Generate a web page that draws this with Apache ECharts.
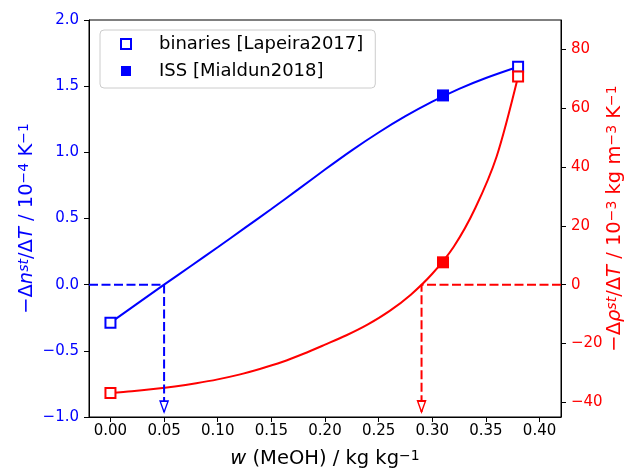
<!DOCTYPE html>
<html><head><meta charset="utf-8">
<script src="https://cdn.jsdelivr.net/npm/echarts@6/dist/echarts.min.js"></script>
<style>html,body{margin:0;padding:0;background:#fff}#c{width:634px;height:469px}</style>
</head><body><div id="c"></div>
<script>
// ---- data ----
const xTicks = [0, 0.05, 0.10, 0.15, 0.20, 0.25, 0.30, 0.35, 0.40];
const nTicks = [-1.0, -0.5, 0.0, 0.5, 1.0, 1.5, 2.0];
const rhoTicks = [-40, -20, 0, 20, 40, 60, 80];

// fitted curves
const wCurveN = [0, 0.025, 0.05, 0.075, 0.10, 0.125, 0.15, 0.175, 0.20, 0.225, 0.25, 0.275, 0.30, 0.325, 0.35, 0.38];
const nCurve  = [-0.287, -0.143, 0, 0.141, 0.283, 0.427, 0.572, 0.72, 0.87, 1.015, 1.15, 1.273, 1.383, 1.48, 1.562, 1.647];
const wCurveRho = [0, 0.02, 0.04, 0.06, 0.08, 0.10, 0.12, 0.14, 0.16, 0.18, 0.20, 0.22, 0.24, 0.26, 0.28, 0.30, 0.32, 0.34, 0.36, 0.38];
const rhoCurve  = [-36.8, -36.25, -35.5, -34.6, -33.5, -32.2, -30.6, -28.6, -26.3, -23.5, -20.4, -17.2, -13.5, -9.0, -3.4, 3.7, 12.9, 26.0, 43.6, 70.8];

// measured points
const wBinaries = [0, 0.38];
const nBinaries = [-0.287, 1.647];
const rhoBinaries = [-36.8, 70.8];
const wISS = [0.31];
const nISS = [1.43];
const rhoISS = [7.6];

// zero crossings (arrows)
const wZeroN = 0.05;
const wZeroRho = 0.29;
const nArrowEnd = -0.963;
const rhoArrowEnd = -43.3;
const xMin = -0.02, xMax = 0.42;

// ---- chart ----
const FONT = 'DejaVu Sans';
const BLUE = '#0000ff', RED = '#ff0000';
const minus = v => (v < 0 ? '\u2212' : '') + Math.abs(v);
const pairs = (xs, ys) => xs.map((x, i) => [x, ys[i]]);

function richFor(color, size) {
  const sup = Math.round(size * 0.7);
  return {
    n: {fontSize: size, fontFamily: FONT, color: color},
    i: {fontSize: size, fontFamily: FONT, fontStyle: 'italic', color: color},
    s: {fontSize: sup, fontFamily: FONT, fontStyle: 'italic', color: color, verticalAlign: 'top'},
    u: {fontSize: sup, fontFamily: FONT, color: color, verticalAlign: 'top'}
  };
}

const chart = echarts.init(document.getElementById('c'), null, {renderer: 'canvas'});
const axisTick = {show: true, inside: false, length: 5, lineStyle: {color: '#000', width: 1}};

chart.setOption({
  animation: false,
  backgroundColor: '#fff',
  grid: {left: 89, right: 73, top: 20, bottom: 52, show: true, borderColor: '#000', borderWidth: 1,
         backgroundColor: 'transparent', containLabel: false, outerBoundsMode: 'none'},
  legend: {
    orient: 'vertical', left: 100, top: 30,
    selectedMode: false,
    itemWidth: 10, itemHeight: 10, itemGap: 5,
    padding: [3, 12, 6, 20],
    backgroundColor: '#fff', borderColor: '#cccccc', borderWidth: 1, borderRadius: 4,
    textStyle: {fontSize: 18, fontFamily: FONT, color: '#000', lineHeight: 22, padding: [0, 0, 0, 23]},
    data: [
      {name: 'binaries [Lapeira2017]', icon: 'rect', itemStyle: {color: '#fff', borderColor: BLUE, borderWidth: 2, opacity: 1}},
      {name: 'ISS [Mialdun2018]', icon: 'rect', itemStyle: {color: BLUE, borderWidth: 0, opacity: 1}}
    ]
  },
  xAxis: {
    type: 'value', min: xMin, max: xMax,
    axisLine: {show: true, onZero: false, lineStyle: {color: '#000', width: 1}},
    axisTick: Object.assign({customValues: xTicks}, axisTick),
    axisLabel: {customValues: xTicks, formatter: v => v.toFixed(2), fontSize: 15, fontFamily: FONT, color: '#000', margin: 7},
    splitLine: {show: false},
    name: '{i|w}{n| (MeOH) / kg kg}{u|\u22121}',
    nameLocation: 'middle', nameGap: 32, nameMoveOverlap: false,
    nameTextStyle: {rich: richFor('#000', 19.5)}
  },
  yAxis: [{
    type: 'value', min: -1, max: 2, interval: 0.5, position: 'left',
    axisLine: {show: true, onZero: false, lineStyle: {color: '#000', width: 1}},
    axisTick: axisTick,
    axisLabel: {formatter: v => (v < 0 ? '\u2212' : '') + Math.abs(v).toFixed(1), fontSize: 15, fontFamily: FONT, color: BLUE, margin: 10},
    splitLine: {show: false},
    name: '{n|\u2212\u0394}{i|n}{s|st}{n|/\u0394}{i|T}{n| / 10}{u|\u22124}{n| K}{u|\u22121}',
    nameLocation: 'middle', nameGap: 52, nameMoveOverlap: false,
    nameTextStyle: {rich: richFor(BLUE, 19.5)}
  }, {
    type: 'value', min: -45, max: 90, position: 'right',
    axisLine: {show: true, onZero: false, lineStyle: {color: '#000', width: 1}},
    axisTick: Object.assign({customValues: rhoTicks}, axisTick),
    axisLabel: {customValues: rhoTicks, formatter: v => minus(v), fontSize: 15, fontFamily: FONT, color: RED, margin: 10},
    splitLine: {show: false},
    name: '{n|\u2212\u0394}{i|\u03c1}{s|st}{n|/\u0394}{i|T}{n| / 10}{u|\u22123}{n| kg m}{u|\u22123}{n| K}{u|\u22121}',
    nameLocation: 'middle', nameGap: 44, nameMoveOverlap: false,
    nameTextStyle: {rich: richFor(RED, 19.5)}
  }],
  series: [
    {type: 'line', yAxisIndex: 0, data: pairs(wCurveN, nCurve), showSymbol: false, symbol: 'none',
     smooth: 0.3, lineStyle: {color: BLUE, width: 2}, z: 2},
    {type: 'line', yAxisIndex: 1, data: pairs(wCurveRho, rhoCurve), showSymbol: false, symbol: 'none',
     smooth: 0.3, lineStyle: {color: RED, width: 2}, z: 2},
    {type: 'line', yAxisIndex: 0, data: [[xMin, 0], [wZeroN, 0], [wZeroN, nArrowEnd]], symbol: 'none',
     lineStyle: {color: BLUE, width: 2, type: [9, 3.5]}, z: 2},
    {type: 'scatter', yAxisIndex: 0, data: [[wZeroN, nArrowEnd]], symbol: 'triangle', symbolSize: [8, 11],
     symbolRotate: 180, symbolOffset: [0, -5.5], itemStyle: {color: '#fff', borderColor: BLUE, borderWidth: 1.5, opacity: 1}, z: 3},
    {type: 'line', yAxisIndex: 1, data: [[xMax, 0], [wZeroRho, 0], [wZeroRho, rhoArrowEnd]], symbol: 'none',
     lineStyle: {color: RED, width: 2, type: [9, 3.5]}, z: 2},
    {type: 'scatter', yAxisIndex: 1, data: [[wZeroRho, rhoArrowEnd]], symbol: 'triangle', symbolSize: [8, 11],
     symbolRotate: 180, symbolOffset: [0, -5.5], itemStyle: {color: '#fff', borderColor: RED, borderWidth: 1.5, opacity: 1}, z: 3},
    {name: 'binaries [Lapeira2017]', type: 'scatter', yAxisIndex: 0, data: pairs(wBinaries, nBinaries),
     symbol: 'rect', symbolSize: 10, itemStyle: {color: '#fff', borderColor: BLUE, borderWidth: 2, opacity: 1}, z: 4},
    {name: 'ISS [Mialdun2018]', type: 'scatter', yAxisIndex: 0, data: pairs(wISS, nISS),
     symbol: 'rect', symbolSize: 12, itemStyle: {color: BLUE, opacity: 1}, z: 4},
    {name: 'binaries (rho)', type: 'scatter', yAxisIndex: 1, data: pairs(wBinaries, rhoBinaries),
     symbol: 'rect', symbolSize: 10, itemStyle: {color: '#fff', borderColor: RED, borderWidth: 2, opacity: 1}, z: 5},
    {name: 'ISS (rho)', type: 'scatter', yAxisIndex: 1, data: pairs(wISS, rhoISS),
     symbol: 'rect', symbolSize: 12, itemStyle: {color: RED, opacity: 1}, z: 5}
  ]
});
</script></body></html>
